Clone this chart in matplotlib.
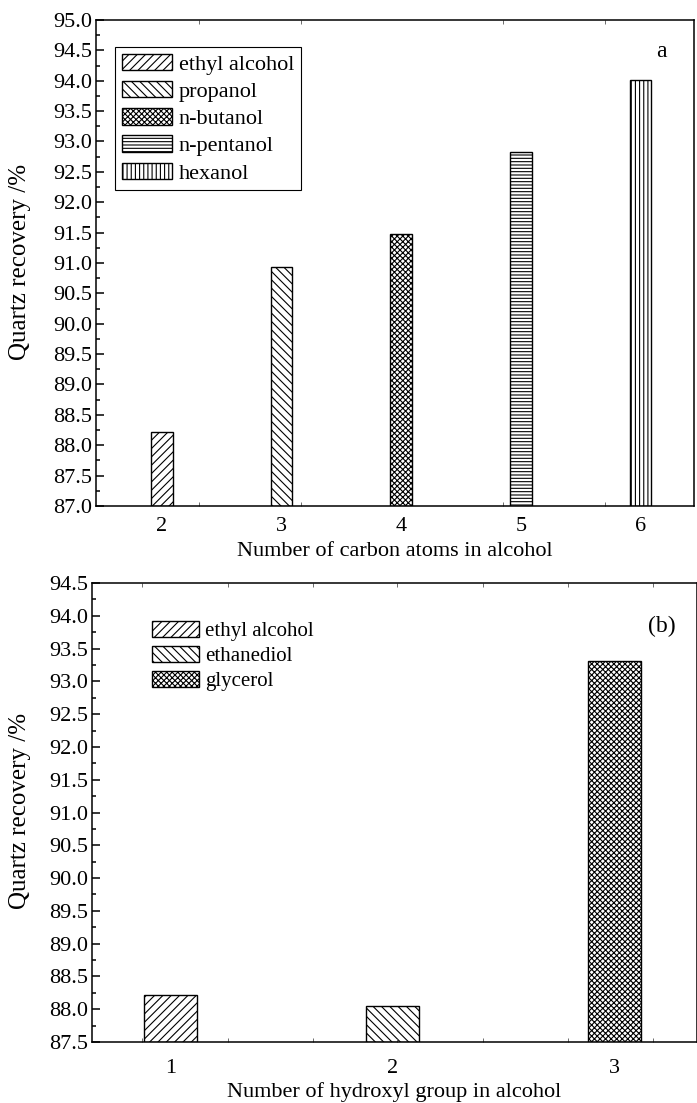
import matplotlib
matplotlib.use('Agg')
import matplotlib.pyplot as plt
from matplotlib.ticker import MultipleLocator, FixedLocator

plt.rcParams['font.family'] = ['Liberation Serif', 'DejaVu Serif']
plt.rcParams['hatch.linewidth'] = 0.8
plt.rcParams['font.size'] = 16

# panel a
carbon_n = [2, 3, 4, 5, 6]
carbon_names = ['ethyl alcohol', 'propanol', 'n-butanol', 'n-pentanol', 'hexanol']
carbon_rec = [88.22, 90.93, 91.48, 92.83, 94.01]
carbon_hatch = ['////', '\\\\\\\\', 'xxxxxx', '-----', '||||']

# panel b
hydroxyl_n = [1, 2, 3]
hydroxyl_names = ['ethyl alcohol', 'ethanediol', 'glycerol']
hydroxyl_rec = [88.22, 88.05, 93.31]
hydroxyl_hatch = ['////', '\\\\\\\\', 'xxxxxx']

fig = plt.figure(figsize=(6.97, 11.03), dpi=100)
ax1 = fig.add_axes([0.138, 0.5413, 0.858, 0.4406])
ax2 = fig.add_axes([0.132, 0.0553, 0.868, 0.4161])


def style(ax, xpad):
    for s in ax.spines.values():
        s.set_linewidth(1.1)
    ax.tick_params(axis='y', which='major', direction='in', length=6, width=1.1, labelsize=16, pad=3)
    ax.tick_params(axis='y', which='minor', direction='in', length=3, width=1.1)
    ax.tick_params(axis='x', which='major', length=0, labelsize=16, pad=xpad)
    ax.tick_params(axis='x', which='minor', direction='in', length=3, width=0.6,
                   top=True, bottom=True, color='#555555')
    ax.yaxis.set_major_locator(MultipleLocator(0.5))
    ax.yaxis.set_minor_locator(MultipleLocator(0.25))
    ax.yaxis.set_major_formatter(plt.FormatStrFormatter('%.1f'))


for x, y, h, lab in zip(carbon_n, carbon_rec, carbon_hatch, carbon_names):
    ax1.bar(x, y - 87.0, bottom=87.0, width=0.18, color='white', edgecolor='black',
            linewidth=1.0, hatch=h, label=lab)
ax1.set_xlim(1.45, 6.45)
ax1.set_ylim(87.0, 95.0)
ax1.set_xticks(carbon_n)
ax1.xaxis.set_minor_locator(FixedLocator([2.31, 3.16, 4.0, 4.85, 5.7]))
style(ax1, 8)
ax1.set_xlabel('Number of carbon atoms in alcohol', fontsize=16, labelpad=4)
ax1.text(0.945, 0.935, 'a', transform=ax1.transAxes, fontsize=17, ha='center', va='center')
leg = ax1.legend(loc='upper left', bbox_to_anchor=(0.032, 0.944), borderaxespad=0,
                 fontsize=16, handlelength=2.25, handleheight=0.76, labelspacing=0.28,
                 handletextpad=0.3, borderpad=0.3, fancybox=False, edgecolor='black',
                 framealpha=1)
leg.get_frame().set_linewidth(0.8)

for x, y, h, lab in zip(hydroxyl_n, hydroxyl_rec, hydroxyl_hatch, hydroxyl_names):
    ax2.bar(x, y - 87.5, bottom=87.5, width=0.24, color='white', edgecolor='black',
            linewidth=1.0, hatch=h, label=lab)
ax2.set_xlim(0.645, 3.37)
ax2.set_ylim(87.5, 94.5)
ax2.set_xticks(hydroxyl_n)
ax2.xaxis.set_minor_locator(FixedLocator([0.87, 1.257, 1.64, 2.02, 2.405, 2.79, 3.17]))
style(ax2, 12)
ax2.set_xlabel('Number of hydroxyl group in alcohol', fontsize=16, labelpad=3)
ax2.text(0.942, 0.905, '(b)', transform=ax2.transAxes, fontsize=17, ha='center', va='center')
ax2.legend(loc='upper left', bbox_to_anchor=(0.085, 0.935), borderaxespad=0,
           fontsize=15, handlelength=2.25, handleheight=0.8, labelspacing=0.22,
           handletextpad=0.3, frameon=False)

# y labels
fig.text(20 / 697, 1 - 262 / 1103, 'Quartz recovery /%', rotation=90, fontsize=18,
         ha='center', va='center')
fig.text(20 / 697, 1 - 811 / 1103, 'Quartz recovery /%', rotation=90, fontsize=18,
         ha='center', va='center')

fig.savefig('out.png', dpi=100)
